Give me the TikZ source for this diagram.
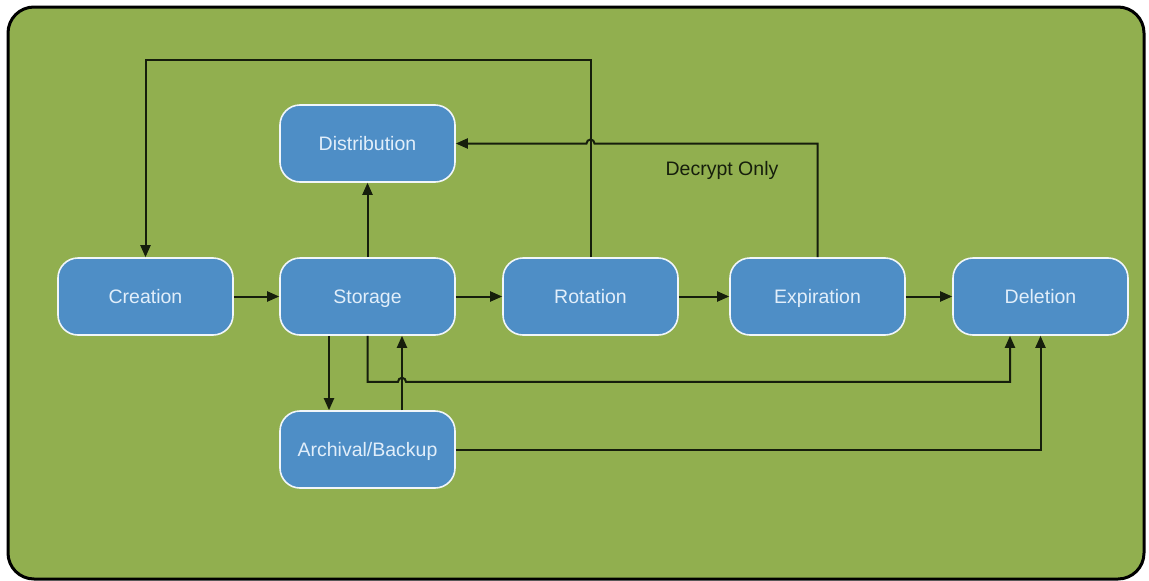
\documentclass[tikz,border=0pt]{standalone}
\usepackage{fontspec}
\setmainfont{Liberation Sans}
\usetikzlibrary{arrows.meta,calc}
\definecolor{bggreen}{RGB}{145,175,79}
\definecolor{boxblue}{RGB}{78,142,198}
\definecolor{boxtext}{RGB}{225,238,250}
\definecolor{linecol}{RGB}{22,30,12}
\begin{document}
\begin{tikzpicture}[x=1pt,y=-1pt,
  stagebox/.style={draw=white!92!boxblue,line width=1.6pt,fill=boxblue,rounded corners=20pt,
    minimum width=175pt,minimum height=77pt,inner sep=0pt,text=boxtext,
    text height=14pt,text depth=0pt,
    font=\fontsize{19.5}{23}\selectfont},
  conn/.style={draw=linecol,line width=2pt},
  arr/.style={conn,-{Triangle[length=12pt,width=10pt]}}]
\useasboundingbox (0,0) rectangle (1149,581);
\draw[fill=bggreen,draw=black,line width=3pt,rounded corners=26pt] (8,7) rectangle (1144,579);

\node[stagebox] (cre) at (145.5,296.5) {Creation};
\node[stagebox] (sto) at (367.5,296.5) {Storage};
\node[stagebox] (rot) at (590.5,296.5) {Rotation};
\node[stagebox] (exp) at (817.5,296.5) {Expiration};
\node[stagebox] (del) at (1040.5,296.5) {Deletion};
\node[stagebox] (dis) at (367.5,143.5) {Distribution};
\node[stagebox] (arc) at (367.5,449.5) {Archival/Backup};

\node[text=linecol,inner sep=0pt,text height=14pt,text depth=0pt,
  font=\fontsize{19.5}{23}\selectfont] (lbl) at (722,168) {Decrypt Only};

\draw[arr] (cre.east) -- (sto.west);
\draw[arr] (sto.east) -- (rot.west);
\draw[arr] (rot.east) -- (exp.west);
\draw[arr] (exp.east) -- (del.west);
\draw[arr] (sto.north) -- (dis.south);
\draw[arr] (rot.north) -- ++(0,-197) -| (cre.north);
\draw[arr] (exp.north) |- ($(rot.north |- dis.east)+(4,0)$)
  arc[start angle=0,end angle=180,radius=4pt] -- (dis.east);
\draw[arr] ($(sto.south)+(-38.5,0)$) -- ($(arc.north)+(-38.5,0)$);
\draw[arr] ($(arc.north)+(34.5,0)$) -- ($(sto.south)+(34.5,0)$);
\draw[arr] (sto.south) |- ($(sto.south)+(30.5,46)$)
  arc[start angle=180,end angle=0,radius=4pt] -| ($(del.south)+(-30.5,0)$);
\draw[arr] (arc.east) -| (del.south);
\end{tikzpicture}
\end{document}
